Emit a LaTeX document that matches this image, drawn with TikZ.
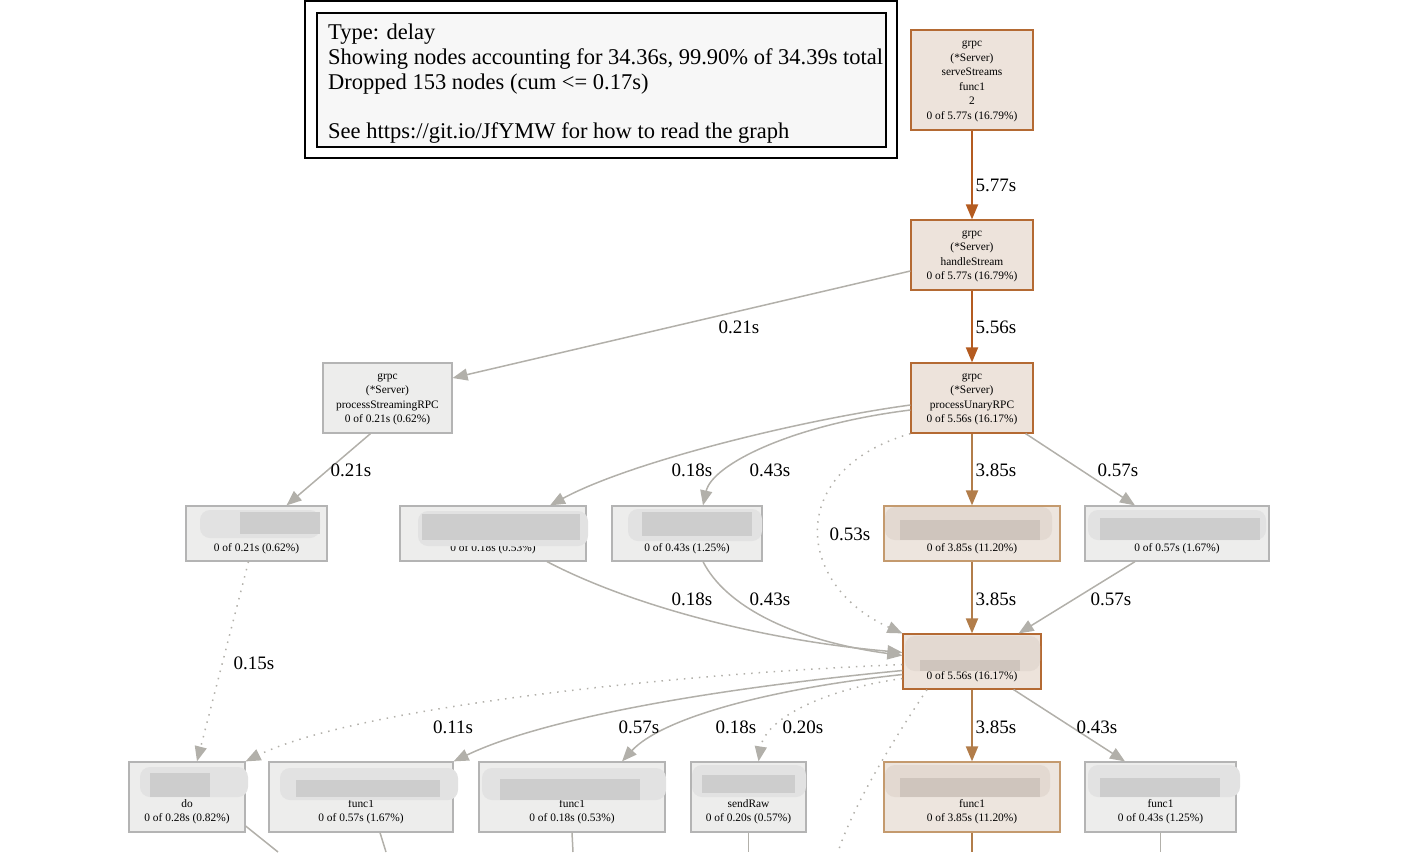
\documentclass[tikz,border=0pt]{standalone}
\usepackage{fontspec}
\setmainfont{Liberation Serif}
\usetikzlibrary{arrows.meta}

\definecolor{hotedge}{HTML}{B45B20}
\definecolor{warmedge}{HTML}{B27D4A}
\definecolor{coldedge}{HTML}{B2B0AA}
\definecolor{hotfill}{HTML}{EDE3DB}
\definecolor{hotline}{HTML}{B46A33}
\definecolor{warmfill}{HTML}{EDE5DE}
\definecolor{warmline}{HTML}{C49A6E}
\definecolor{coldfill}{HTML}{EDEDEC}
\definecolor{coldline}{HTML}{B4B4B4}
\definecolor{legendfill}{HTML}{F7F7F7}
\definecolor{smudgelight}{HTML}{E2E2E2}
\definecolor{smudgedark}{HTML}{CDCDCD}
\definecolor{smudgewarmlight}{HTML}{E3D9D1}
\definecolor{smudgewarmdark}{HTML}{CFC5BD}

\tikzset{
  fn/.style={draw, line width=1.2pt, inner sep=0pt, align=center,
    font=\fontsize{11.4}{14.6}\selectfont},
  hot/.style={fn, fill=hotfill, draw=hotline},
  warm/.style={fn, fill=warmfill, draw=warmline},
  cold/.style={fn, fill=coldfill, draw=coldline},
  wt/.style={inner sep=0pt, font=\fontsize{19}{22}\selectfont},
  tip/.style={-{Triangle[length=15pt,width=12pt]}},
  hotarrow/.style={tip, draw=hotedge, line width=2pt},
  warmarrow/.style={tip, draw=warmedge, line width=2pt},
  coldarrow/.style={tip, draw=coldedge, line width=1.5pt},
  faint/.style={coldarrow, dash pattern=on 1.5pt off 6pt},
  stub/.style={draw=coldedge, line width=1.5pt},
  haze/.style={fill=smudgelight, rounded corners=10pt},
  hazecore/.style={fill=smudgedark},
  warmhaze/.style={fill=smudgewarmlight, rounded corners=10pt},
  warmhazecore/.style={fill=smudgewarmdark}
}

\begin{document}
\begin{tikzpicture}[x=1pt,y=-1pt]
  \useasboundingbox (0,0) rectangle (1401,852);

  % legend
  \draw [line width=1.5pt] (305,1) rectangle (897,158);
  \draw [fill=legendfill, line width=1.2pt] (317,13) rectangle (886,147);
  \node [anchor=north west, inner sep=0pt, align=left,
    font=\fontsize{22.5}{24.6}\selectfont] (legend) at (328,24)
    {Type: delay\\Showing nodes accounting for 34.36s, 99.90\% of 34.39s total\\Dropped 153 nodes (cum <= 0.17s)\\[24.6pt]See https://git.io/JfYMW for how to read the graph};

  % nodes
  \node [hot, minimum width=122pt, minimum height=100pt] (serve) at (972,80)
    {\strut grpc\\(*Server)\\serveStreams\\func1\\2\\0 of 5.77s (16.79\%)\strut};
  \node [hot, minimum width=122pt, minimum height=70pt] (handle) at (972,255)
    {\strut grpc\\(*Server)\\handleStream\\0 of 5.77s (16.79\%)\strut};
  \node [hot, minimum width=122pt, minimum height=70pt] (unary) at (972,398)
    {\strut grpc\\(*Server)\\processUnaryRPC\\0 of 5.56s (16.17\%)\strut};
  \node [cold, minimum width=129pt, minimum height=70pt] (streaming) at (387.5,398)
    {\strut grpc\\(*Server)\\processStreamingRPC\\0 of 0.21s (0.62\%)\strut};

  \node [cold, minimum width=141pt, minimum height=55pt] (strm) at (256.5,533.5)
    {\strut\\\\0 of 0.21s (0.62\%)\strut};
  \node [cold, minimum width=186pt, minimum height=55pt] (u1) at (493,533.5)
    {\strut\\\\0 of 0.18s (0.53\%)\strut};
  \node [cold, minimum width=150pt, minimum height=55pt] (u2) at (687,533.5)
    {\strut\\\\0 of 0.43s (1.25\%)\strut};
  \node [warm, minimum width=176pt, minimum height=55pt] (u3) at (972,533.5)
    {\strut\\\\0 of 3.85s (11.20\%)\strut};
  \node [cold, minimum width=184pt, minimum height=55pt] (u4) at (1177,533.5)
    {\strut\\\\0 of 0.57s (1.67\%)\strut};

  \node [hot, minimum width=138pt, minimum height=55pt] (mid) at (972,661.5)
    {\strut\\\\0 of 5.56s (16.17\%)\strut};

  \node [cold, minimum width=116pt, minimum height=70pt] (do) at (187,797)
    {\strut\\\\do\\0 of 0.28s (0.82\%)\strut};
  \node [cold, minimum width=184pt, minimum height=70pt] (fa) at (361,797)
    {\strut\\\\func1\\0 of 0.57s (1.67\%)\strut};
  \node [cold, minimum width=186pt, minimum height=70pt] (fb) at (572,797)
    {\strut\\\\func1\\0 of 0.18s (0.53\%)\strut};
  \node [cold, minimum width=115pt, minimum height=70pt] (sendraw) at (748.5,797)
    {\strut\\\\sendRaw\\0 of 0.20s (0.57\%)\strut};
  \node [warm, minimum width=176pt, minimum height=70pt] (fc) at (972,797)
    {\strut\\\\func1\\0 of 3.85s (11.20\%)\strut};
  \node [cold, minimum width=151pt, minimum height=70pt] (fd) at (1160.5,797)
    {\strut\\\\func1\\0 of 0.43s (1.25\%)\strut};

  % blurred names
  \fill [haze] (200,510) rectangle (320,538);
  \fill [hazecore] (240,512) rectangle (320,534);
  \fill [haze] (418,511) rectangle (588,546);
  \fill [hazecore] (422,514) rectangle (580,540);
  \fill [haze] (628,509) rectangle (762,541);
  \fill [hazecore] (642,512) rectangle (752,536);
  \fill [warmhaze] (885,507) rectangle (1052,540);
  \fill [warmhazecore] (900,520) rectangle (1040,540);
  \fill [haze] (1088,510) rectangle (1266,540);
  \fill [hazecore] (1100,518) rectangle (1260,540);
  \fill [warmhaze] (905,636) rectangle (1040,671);
  \fill [warmhazecore] (920,660) rectangle (1020,671);
  \fill [haze] (140,767) rectangle (248,797);
  \fill [hazecore] (150,773) rectangle (210,797);
  \fill [haze] (280,768) rectangle (458,800);
  \fill [hazecore] (296,780) rectangle (440,797);
  \fill [haze] (482,768) rectangle (666,800);
  \fill [hazecore] (500,779) rectangle (640,800);
  \fill [haze] (692,765) rectangle (806,797);
  \fill [hazecore] (702,775) rectangle (795,793);
  \fill [warmhaze] (885,765) rectangle (1050,797);
  \fill [warmhazecore] (900,778) rectangle (1040,797);
  \fill [haze] (1088,765) rectangle (1240,797);
  \fill [hazecore] (1100,778) rectangle (1220,797);

  % edges
  \draw [hotarrow] (serve) -- (handle);
  \draw [coldarrow] ([yshift=-16pt]handle.west) -- ([yshift=20pt]streaming.east);
  \draw [hotarrow] (handle) -- (unary);
  \draw [coldarrow] ([xshift=-17pt]streaming.south) -- ([xshift=30pt]strm.north);
  \draw [coldarrow] ([yshift=-7pt]unary.west) .. controls (800,420) and (630,462) .. ([xshift=57pt]u1.north);
  \draw [coldarrow] ([yshift=-12pt]unary.west) .. controls (790,425) and (712,465) .. ([xshift=16pt]u2.north);
  \draw [warmarrow] (unary) -- (u3);
  \draw [coldarrow] ([xshift=-8pt]unary.south east) -- ([xshift=-42pt]u4.north);
  \draw [faint] (unary.south west) .. controls (785,470) and (795,585) .. (mid.north west);
  \draw [warmarrow] (u3) -- (mid);
  \draw [coldarrow] ([xshift=-42pt]u4.south) -- ([xshift=-23pt]mid.north east);
  \draw [coldarrow] ([xshift=54pt]u1.south) .. controls (630,605) and (760,640) .. ([yshift=9pt]mid.west);
  \draw [coldarrow] ([xshift=16pt]u2.south) .. controls (725,605) and (790,640) .. ([yshift=6pt]mid.west);
  \draw [faint] ([xshift=-8pt]strm.south) -- ([xshift=10pt]do.north);
  \draw [faint] ([yshift=-3pt]mid.west) .. controls (650,675) and (350,710) .. (do.north east);
  \draw [coldarrow] ([yshift=-9pt]mid.west) .. controls (700,690) and (540,720) .. (fa.north east);
  \draw [coldarrow] ([yshift=-13pt]mid.west) .. controls (760,690) and (660,720) .. ([xshift=50pt]fb.north);
  \draw [faint] ([yshift=-17pt]mid.west) .. controls (820,690) and (765,720) .. ([xshift=10pt]sendraw.north);
  \draw [warmarrow] (mid) -- (fc);
  \draw [coldarrow] ([xshift=-28pt]mid.south east) -- ([xshift=-35.5pt]fd.north);

  % edges leaving the page
  \coordinate (below) at (838,852);
  \coordinate (doout) at (278,852);
  \coordinate (faout) at (386,852);
  \coordinate (fbout) at (573,852);
  \coordinate (sendout) at (748.5,852);
  \coordinate (fcout) at (972,852);
  \coordinate (fdout) at (1160.5,852);
  \draw [faint, -] ([xshift=-45pt]mid.south) .. controls (900,730) and (855,800) .. (below);
  \draw [stub] ([yshift=-29pt]do.east) -- (doout);
  \draw [stub] ([xshift=19pt]fa.south) -- (faout);
  \draw [stub] (fb.south) -- (fbout);
  \draw [stub] (sendraw.south) -- (sendout);
  \draw [stub, draw=warmedge, line width=2pt] (fc.south) -- (fcout);
  \draw [stub] (fd.south) -- (fdout);

  % weights
  \node [wt] (w1) at (996,185) {5.77s};
  \node [wt] (w2) at (739,327) {0.21s};
  \node [wt] (w3) at (996,327) {5.56s};
  \node [wt] (w4) at (351,470) {0.21s};
  \node [wt] (w5) at (692,470) {0.18s};
  \node [wt] (w6) at (770,470) {0.43s};
  \node [wt] (w7) at (996,470) {3.85s};
  \node [wt] (w8) at (1118,470) {0.57s};
  \node [wt] (w9) at (850,534) {0.53s};
  \node [wt] (w10) at (692,599) {0.18s};
  \node [wt] (w11) at (770,599) {0.43s};
  \node [wt] (w12) at (996,599) {3.85s};
  \node [wt] (w13) at (1111,599) {0.57s};
  \node [wt] (w14) at (254,663) {0.15s};
  \node [wt] (w15) at (453,727) {0.11s};
  \node [wt] (w16) at (639,727) {0.57s};
  \node [wt] (w17) at (736,727) {0.18s};
  \node [wt] (w18) at (803,727) {0.20s};
  \node [wt] (w19) at (996,727) {3.85s};
  \node [wt] (w20) at (1097,727) {0.43s};
\end{tikzpicture}
\end{document}
